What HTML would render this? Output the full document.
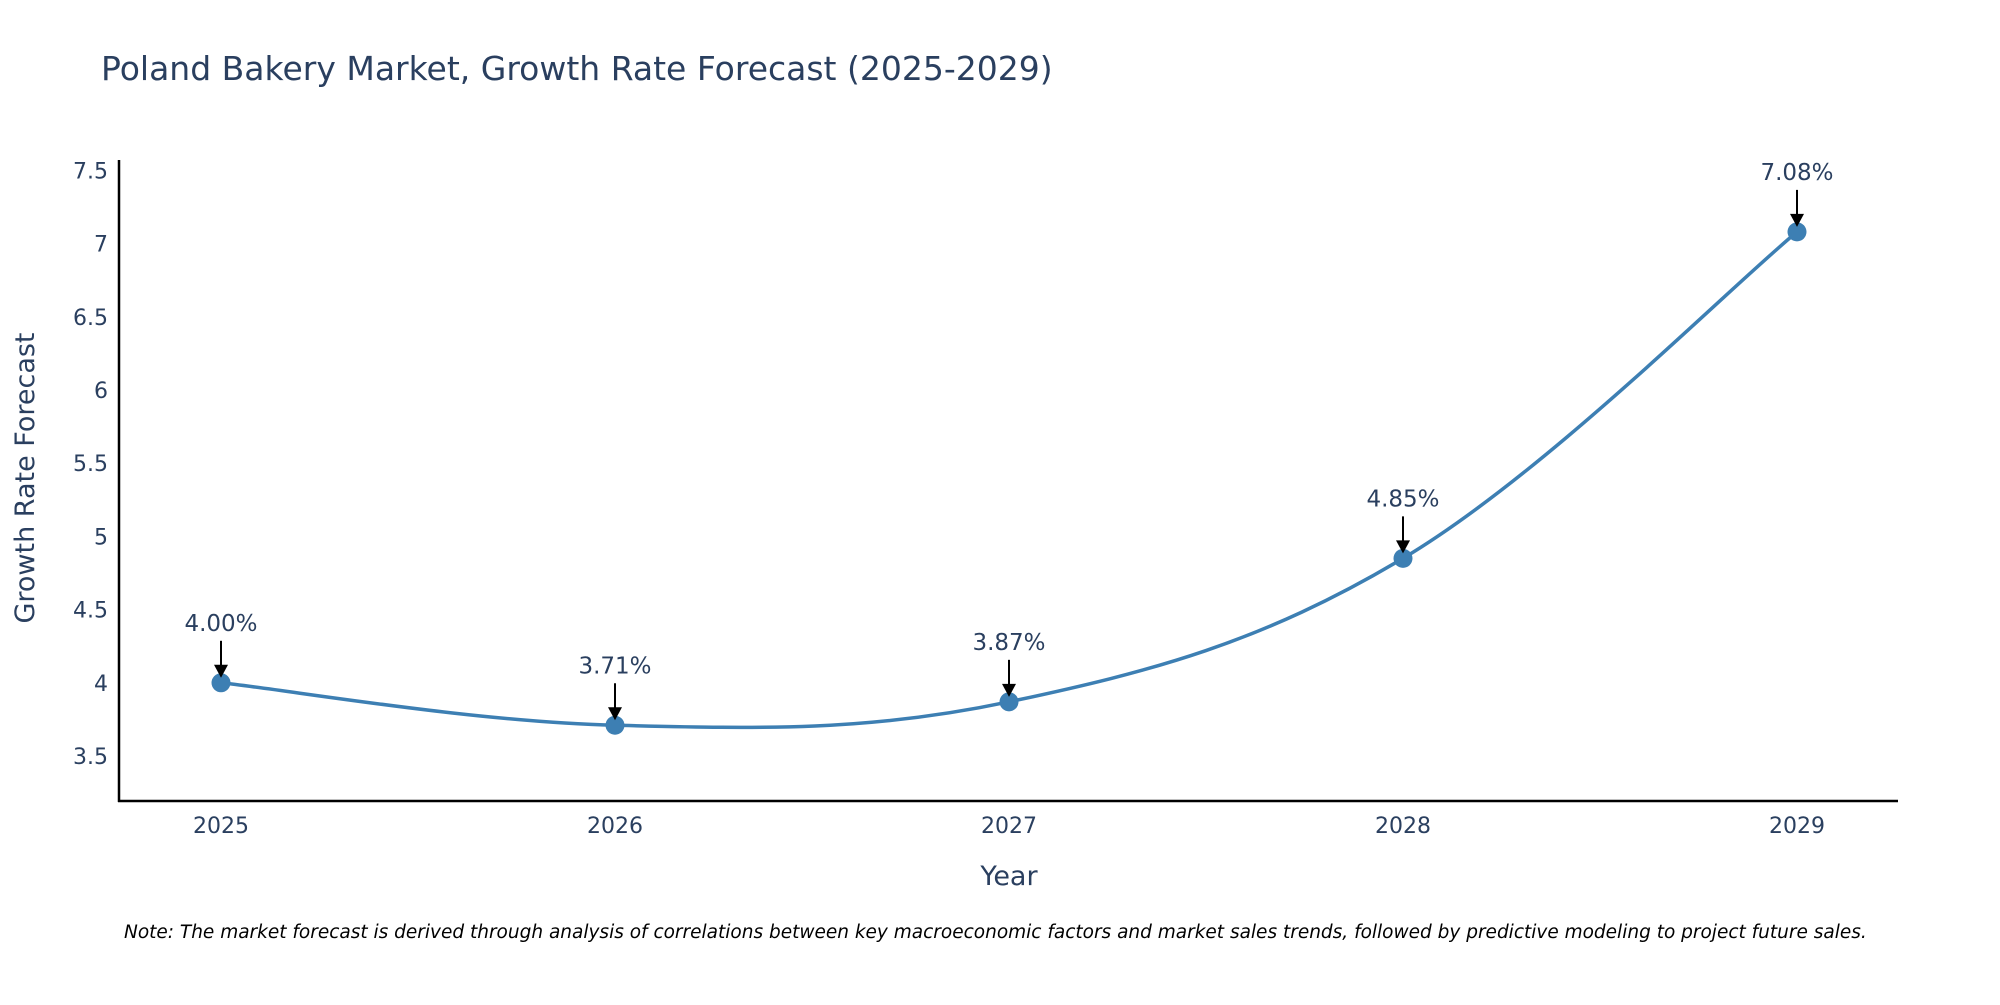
<!DOCTYPE html>
<html><head><meta charset="utf-8"><style>
body{margin:0;background:#fff;}
svg text{font-family:"DejaVu Sans","Liberation Sans",sans-serif;fill:#2a3f5f;}
</style></head><body>
<svg id="chart" width="2000" height="1000" viewBox="0 0 2000 1000" xmlns="http://www.w3.org/2000/svg">
<rect width="2000" height="1000" fill="#fff"/>
<text x="101" y="80" font-size="33">Poland Bakery Market, Growth Rate Forecast (2025-2029)</text>
<g id="yticks"></g><g id="xticks"></g>
<line x1="119" y1="160" x2="119" y2="802" stroke="#000" stroke-width="2.5"/>
<line x1="118" y1="801" x2="1898" y2="801" stroke="#000" stroke-width="2.5"/>
<path id="line" fill="none" stroke="#3d7fb3" stroke-width="3.5"/>
<g id="marks"></g>
<text transform="translate(34,478) rotate(-90)" text-anchor="middle" font-size="27">Growth Rate Forecast</text>
<text x="1009" y="885" text-anchor="middle" font-size="27">Year</text>
<text x="124" y="938" font-size="18.5" font-style="italic" style="fill:#000">Note: The market forecast is derived through analysis of correlations between key macroeconomic factors and market sales trends, followed by predictive modeling to project future sales.</text>
</svg>
<script>
const years=[2025,2026,2027,2028,2029];
const values=[4.00,3.71,3.87,4.85,7.08];
const labels=["4.00%","3.71%","3.87%","4.85%","7.08%"];
const yTicks=[3.5,4,4.5,5,5.5,6,6.5,7,7.5];
const yTickLabels=["3.5","4","4.5","5","5.5","6","6.5","7","7.5"];
const NS="http://www.w3.org/2000/svg";
const X=v=>221+(v-2025)*394;
const Y=v=>756-(v-3.5)*146.4;
function mk(t,a,p){const e=document.createElementNS(NS,t);for(const k in a)e.setAttribute(k,a[k]);p.appendChild(e);return e;}
const yt=document.getElementById('yticks');
yTicks.forEach((v,i)=>{const t=mk('text',{x:108,y:Y(v)+8,'text-anchor':'end','font-size':'22'},yt);t.textContent=yTickLabels[i];

});
const xt=document.getElementById('xticks');
years.forEach(v=>{const t=mk('text',{x:X(v),y:833,'text-anchor':'middle','font-size':'22'},xt);t.textContent=String(v);

});
const P=years.map((y,i)=>[X(y),Y(values[i])]);
let d=`M${P[0][0]},${P[0][1]}`;const s=0.18;
for(let i=0;i<P.length-1;i++){const p0=P[Math.max(0,i-1)],p1=P[i],p2=P[i+1],p3=P[Math.min(P.length-1,i+2)];
d+=` C${p1[0]+(p2[0]-p0[0])*s},${p1[1]+(p2[1]-p0[1])*s} ${p2[0]-(p3[0]-p1[0])*s},${p2[1]-(p3[1]-p1[1])*s} ${p2[0]},${p2[1]}`;}
document.getElementById('line').setAttribute('d',d);
const m=document.getElementById('marks');
P.forEach((p,i)=>{
const c=mk('circle',{cx:p[0],cy:p[1],r:9.5,fill:'#3d7fb3'},m);


const l=mk('line',{x1:p[0],y1:p[1]-42,x2:p[0],y2:p[1]-16,stroke:'#000','stroke-width':2},m);


const a=mk('polygon',{points:`${p[0]-7},${p[1]-18} ${p[0]+7},${p[1]-18} ${p[0]},${p[1]-5}`,fill:'#000'},m);


const t=mk('text',{x:p[0],y:p[1]-52,'text-anchor':'middle','font-size':'23'},m);t.textContent=labels[i];


});
</script>
</body></html>
